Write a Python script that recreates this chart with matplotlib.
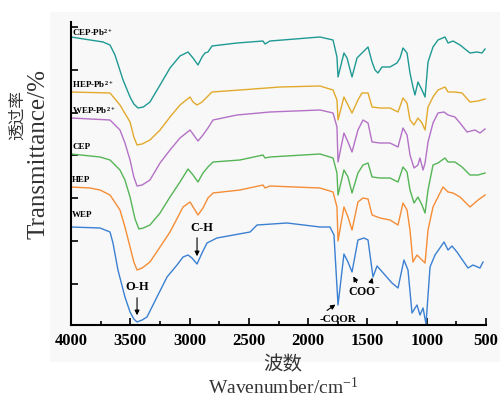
import matplotlib
matplotlib.use("Agg")
import matplotlib.pyplot as plt
from matplotlib.patches import Rectangle

# FTIR spectra, transmittance in arbitrary offset units
cep_pb_wn = [4000, 3730, 3671, 3629, 3561, 3502, 3470, 3435, 3390, 3334, 3249, 3165, 3081, 3013,
             2971, 2929, 2895, 2870, 2845, 2811, 2600, 2381, 2364, 2322, 1900, 1790, 1757, 1748,
             1698, 1672, 1630, 1588, 1546, 1495, 1461, 1436, 1411, 1377, 1310, 1251, 1225, 1200,
             1166, 1141, 1116, 1099, 1074, 1040, 1014, 989, 947, 905, 846, 820, 778, 719, 635,
             576, 534, 508]
cep_pb_t = [288, 283, 280, 270, 245, 228, 221, 217, 218, 223, 240, 257, 269, 273,
            267, 260, 268, 272, 273, 279, 282, 284, 281, 284, 288, 285, 268, 248,
            272, 267, 248, 267, 272, 278, 263, 255, 252, 258, 258, 262, 267, 277,
            272, 252, 238, 230, 243, 235, 228, 263, 278, 285, 288, 282, 284, 280, 272,
            273, 272, 276]

hep_pb_wn = [4000, 3671, 3587, 3502, 3470, 3443, 3400, 3334, 3249, 3165, 3081, 2996, 2971, 2937,
             2895, 2853, 2811, 2575, 2237, 1900, 1790, 1757, 1748, 1698, 1664, 1630, 1580, 1546,
             1495, 1461, 1394, 1310, 1242, 1200, 1166, 1141, 1107, 1074, 1040, 1014, 989, 947,
             905, 846, 820, 762, 702, 635, 567, 508]
hep_pb_t = [233, 232, 220, 203, 188, 180, 181, 185, 195, 208, 220, 228, 223, 220,
            223, 228, 233, 235, 238, 239, 235, 225, 205, 228, 220, 212, 225, 232,
            232, 218, 217, 217, 213, 227, 222, 205, 200, 207, 202, 195, 218, 228,
            235, 238, 233, 233, 232, 223, 224, 226]

wep_pb_wn = [4000, 3671, 3587, 3545, 3502, 3470, 3443, 3400, 3334, 3249, 3165, 3081, 2996, 2929,
             2887, 2845, 2802, 2600, 2322, 1900, 1790, 1757, 1748, 1698, 1664, 1630, 1580, 1537,
             1495, 1461, 1394, 1310, 1242, 1200, 1166, 1141, 1107, 1074, 1057, 1031, 1014, 989,
             947, 905, 854, 820, 762, 719, 660, 593, 551, 508]
wep_pb_t = [207, 205, 195, 182, 165, 148, 139, 140, 145, 162, 175, 187, 195, 184,
            190, 197, 205, 210, 213, 215, 212, 198, 163, 192, 183, 173, 195, 205,
            202, 183, 182, 182, 178, 197, 190, 170, 157, 160, 167, 155, 162, 183,
            202, 212, 213, 210, 208, 202, 193, 195, 192, 196]

cep_wn = [4000, 3755, 3671, 3587, 3545, 3502, 3460, 3427, 3390, 3334, 3249, 3165, 3081, 3013,
          2971, 2929, 2887, 2845, 2802, 2575, 2381, 2364, 2322, 1900, 1790, 1757, 1748, 1698,
          1664, 1630, 1580, 1537, 1495, 1461, 1394, 1310, 1242, 1200, 1166, 1141, 1107, 1074,
          1040, 1014, 989, 947, 905, 846, 820, 762, 702, 635, 567, 508]
cep_t = [171, 168, 165, 155, 145, 128, 106, 96, 97, 100, 112, 128, 143, 156,
         150, 143, 152, 158, 163, 165, 170, 167, 168, 171, 167, 152, 130, 155,
         148, 132, 152, 160, 162, 148, 147, 147, 143, 158, 153, 135, 122, 128,
         120, 112, 135, 160, 162, 167, 163, 163, 158, 150, 150, 152]

hep_wn = [4000, 3840, 3755, 3671, 3587, 3545, 3502, 3470, 3443, 3400, 3334, 3249, 3165, 3055,
          2996, 2929, 2887, 2845, 2802, 2575, 2381, 2364, 2322, 1900, 1790, 1757, 1748, 1698,
          1664, 1630, 1580, 1537, 1495, 1461, 1394, 1310, 1242, 1200, 1166, 1141, 1116, 1082,
          1040, 1014, 989, 947, 863, 820, 778, 719, 635, 567, 508]
hep_t = [138, 137, 135, 130, 115, 98, 78, 63, 55, 57, 63, 78, 93, 118,
         123, 110, 117, 127, 132, 135, 140, 137, 139, 137, 133, 118, 84, 118,
         108, 95, 123, 127, 126, 110, 107, 105, 100, 122, 115, 95, 63, 70,
         65, 62, 95, 118, 138, 133, 132, 128, 118, 125, 130]

wep_wn = [4000, 3755, 3671, 3646, 3604, 3545, 3502, 3470, 3443, 3400, 3359, 3275, 3190, 3106,
          3055, 3013, 2980, 2937, 2895, 2853, 2769, 2490, 2431, 2178, 1900, 1816, 1782, 1748,
          1698, 1664, 1630, 1580, 1529, 1495, 1453, 1419, 1352, 1293, 1242, 1192, 1158, 1124,
          1082, 1057, 1031, 1006, 972, 930, 854, 820, 787, 745, 652, 610, 551, 525]
wep_t = [98, 97, 93, 82, 55, 28, 13, 6, 3, 5, 8, 28, 48, 60,
         68, 70, 67, 61, 72, 82, 87, 93, 100, 102, 98, 98, 90, 20,
         71, 63, 53, 85, 87, 85, 48, 59, 50, 42, 37, 65, 55, 12,
         20, 10, 17, 1, 58, 70, 83, 75, 79, 73, 57, 60, 57, 63]

names = ["CEP-Pb$^{2+}$", "HEP-Pb$^{2+}$", "WEP-Pb$^{2+}$", "CEP", "HEP", "WEP"]
colors = ["#1f9993", "#e2aa2c", "#b471c6", "#55b556", "#f58d36", "#3b80d2"]
label_y = [292, 240, 215, 178, 145, 110]

series = [(cep_pb_wn, cep_pb_t), (hep_pb_wn, hep_pb_t), (wep_pb_wn, wep_pb_t),
          (cep_wn, cep_t), (hep_wn, hep_t), (wep_wn, wep_t)]

serif = "Liberation Serif"
plt.rcParams["font.family"] = serif
plt.rcParams["mathtext.fontset"] = "custom"
plt.rcParams["mathtext.rm"] = serif
plt.rcParams["mathtext.bf"] = serif + ":bold"
plt.rcParams["mathtext.default"] = "regular"

fig = plt.figure(figsize=(5, 4), dpi=100)
fig.patches.append(Rectangle((0.10, 0.095), 0.90, 0.875, transform=fig.transFigure,
                             facecolor="#f8f8f8", edgecolor="none", zorder=-10))
ax = fig.add_axes([0.142, 0.1875, 0.83, 0.7575])
ax.patch.set_alpha(0)

for (wn, t), c in zip(series, colors):
    ax.plot(wn, t, color=c, lw=1.0)

for name, yy in zip(names, label_y):
    ax.text(3990, yy, name, fontsize=6.5, fontweight="bold", va="center", ha="left")

ax.set_xlim(4000, 500)
ax.set_ylim(0, 303)
ax.set_xticks(range(4000, 499, -500))
ax.set_xticks(range(3750, 500, -500), minor=True)
ax.set_yticks([41, 84, 127, 170, 212, 255, 298])
ax.set_yticklabels([])
ax.tick_params(axis="both", which="both", direction="in", width=1.2)
ax.tick_params(axis="x", which="major", length=5, pad=6, labelsize=12)
ax.tick_params(axis="x", which="minor", length=3)
ax.tick_params(axis="y", length=5)
for lab in ax.get_xticklabels():
    lab.set_fontweight("bold")
for s in ["top", "right"]:
    ax.spines[s].set_visible(False)
for s in ["left", "bottom"]:
    ax.spines[s].set_linewidth(1.5)

# peak annotations
ann = dict(fontsize=9, fontweight="bold", ha="center", va="center")
arrow = dict(arrowstyle="-|>", color="black", lw=0.8, mutation_scale=7)
ax.annotate("", xy=(3443, 7), xytext=(3443, 30), arrowprops=arrow)
ax.text(3443, 38, "O-H", **ann)
ax.annotate("", xy=(2937, 66), xytext=(2937, 90), arrowprops=arrow)
ax.text(2900, 97, "C-H", **ann)
ax.annotate("", xy=(1750, 22), xytext=(1860, 13), arrowprops=arrow)
ax.text(1750, 6, "-COOR", fontsize=8, fontweight="bold", ha="center", va="center")
ax.annotate("", xy=(1630, 51), xytext=(1580, 40), arrowprops=arrow)
ax.annotate("", xy=(1453, 50), xytext=(1475, 40), arrowprops=arrow)
ax.text(1525, 33, "COO$^{-}$", fontsize=8.5, fontweight="bold", ha="center", va="center")

fig.text(283 / 500, 1 - 365 / 400, "波数", family=["Noto Sans CJK SC"], fontsize=14,
         fontweight="light", color="#333333", ha="center", va="center")
fig.text(283 / 500, 1 - 388 / 400, "Wavenumber/cm$^{-1}$", fontsize=14, color="#333333",
         ha="center", va="center")
fig.text(17 / 500, 1 - 115 / 400, "透过率", family=["Noto Sans CJK SC"], fontsize=12,
         fontweight="light", color="#333333", rotation=90, ha="center", va="center")
fig.text(39 / 500, 1 - 154 / 400, "Transmittance/%", fontsize=18, color="#333333",
         rotation=90, ha="center", va="center")

fig.savefig("out.png", dpi=100)
